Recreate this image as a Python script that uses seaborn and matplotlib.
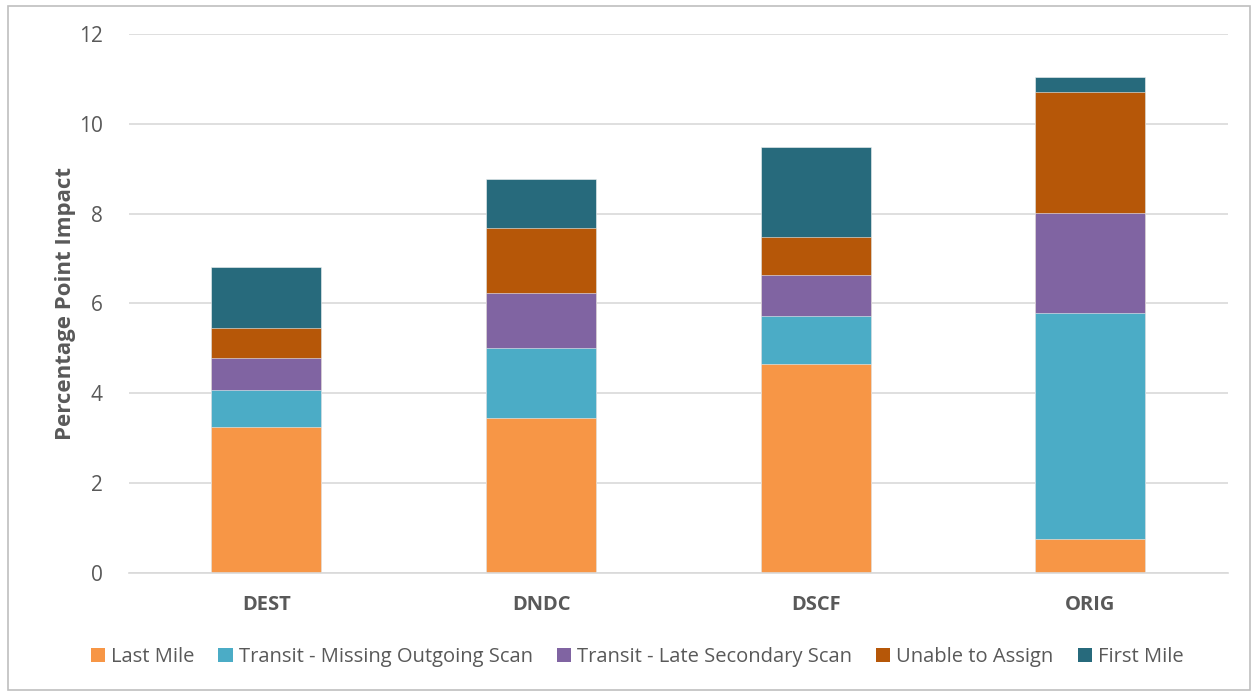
import matplotlib
matplotlib.use("Agg")
import matplotlib.pyplot as plt
import seaborn as sns
import numpy as np
import pandas as pd
from matplotlib.patches import Patch, Rectangle

# Facility types on the x axis
categories = ["DEST", "DNDC", "DSCF", "ORIG"]

# Percentage-point impact per failure reason (stacked bottom to top)
last_mile = [3.25, 3.45, 4.65, 0.76]
transit_missing_scan = [0.83, 1.56, 1.07, 5.03]
transit_late_scan = [0.71, 1.23, 0.92, 2.23]
unable_to_assign = [0.67, 1.44, 0.84, 2.68]
first_mile = [1.36, 1.10, 2.01, 0.34]

series_names = ["Last Mile", "Transit - Missing Outgoing Scan",
                "Transit - Late Secondary Scan", "Unable to Assign", "First Mile"]
series_values = [last_mile, transit_missing_scan, transit_late_scan,
                 unable_to_assign, first_mile]
series_colors = ["#F79646", "#4BACC6", "#8064A2", "#B65708", "#276A7C"]

y_ticks = [0, 2, 4, 6, 8, 10, 12]

sns.set_theme(style="white")
plt.rcParams["font.family"] = ["Open Sans", "DejaVu Sans"]

text_color = "#595959"
grid_color = "#D9D9D9"

fig = plt.figure(figsize=(12.54, 6.92), dpi=100)
ax = fig.add_axes([0.1029, 0.172, 0.8761, 0.779])

# Cumulative tops; draw tallest first so lower segments overlay them
cum = np.cumsum(np.array(series_values), axis=0)
for i in range(len(series_names) - 1, -1, -1):
    df = pd.DataFrame({"cat": categories, "val": cum[i]})
    sns.barplot(data=df, x="cat", y="val", color=series_colors[i],
                saturation=1, width=0.4, ax=ax,
                edgecolor="#F2F2F2", linewidth=0.4, zorder=2)

ax.set_ylim(0, 12)
ax.set_xlim(-0.5, len(categories) - 0.5)
ax.set_yticks(y_ticks)
ax.set_yticklabels([str(t) for t in y_ticks])
ax.yaxis.grid(True, color=grid_color, linewidth=1.2, zorder=0)
ax.set_axisbelow(True)
for s in ["top", "right", "left"]:
    ax.spines[s].set_visible(False)
ax.spines["bottom"].set_color(grid_color)
ax.spines["bottom"].set_linewidth(1.2)

ax.tick_params(axis="y", length=0, pad=19, labelsize=15, labelcolor=text_color)
ax.tick_params(axis="x", length=0, pad=16, labelsize=14.5, labelcolor=text_color)
for lbl in ax.get_xticklabels():
    lbl.set_fontweight("bold")

ax.set_xlabel("")
ax.set_ylabel("Percentage Point Impact", fontsize=16, fontweight="bold",
              color=text_color, labelpad=2)

handles = [Patch(facecolor=c, edgecolor="none") for c in series_colors]
fig.legend(handles, series_names, loc="center", bbox_to_anchor=(0.508, 0.051),
           ncol=5, frameon=False, fontsize=14.5, handlelength=0.7,
           handleheight=0.7, handletextpad=0.3, columnspacing=1.2,
           labelcolor=text_color)

# Outer chart border
fig.patches.append(Rectangle((0.0065, 0.003), 0.9905, 0.988,
                             transform=fig.transFigure, fill=False,
                             edgecolor="#BFBFBF", linewidth=1.2))

fig.savefig("out.png", dpi=100, facecolor="white")
